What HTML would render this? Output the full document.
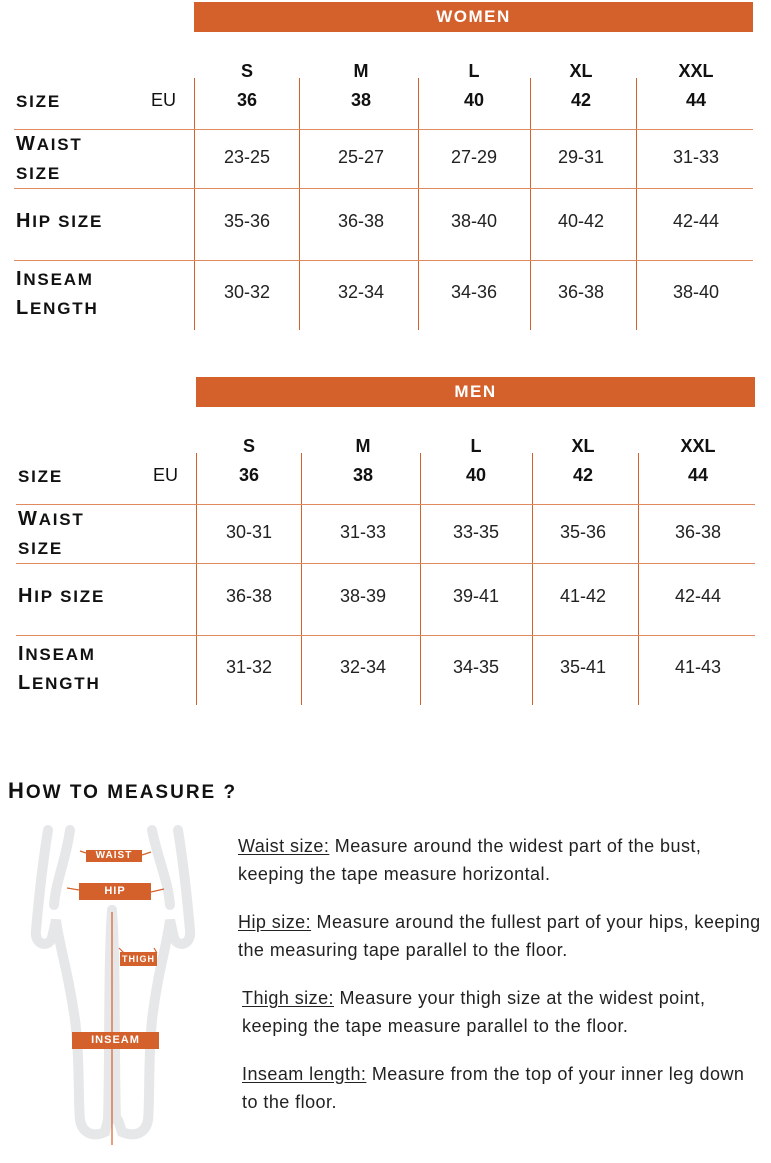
<!DOCTYPE html>
<html><head><meta charset="utf-8">
<style>
body{margin:0;width:771px;height:1163px;background:#fff;position:relative;overflow:hidden;font-family:"Liberation Sans",sans-serif;color:#111}
.a{position:absolute}
.bar{background:#d4612c;color:#fff;font-weight:bold;text-transform:uppercase;font-size:17px;letter-spacing:1.5px;text-align:center;line-height:30px}
.sc{font-weight:bold;text-transform:uppercase;font-size:17px;letter-spacing:1.8px;white-space:nowrap}
.sc b{font-size:20px}
.hd{font-weight:bold;font-size:18px;text-align:center;width:80px;margin-left:-40px}
.v{font-size:18px;text-align:center;width:80px;margin-left:-40px;color:#222}
.vl{width:1px;background:#d4612c}
.hl{height:1px;background:#e08a5f}
.p{font-size:18px;color:#222;white-space:nowrap;letter-spacing:0.45px}
.p u{text-underline-offset:2px}
.lab{background:#d4612c;color:#fff;font-weight:bold;font-size:10px;letter-spacing:1px;text-align:center}
</style></head><body>
<div id="root"></div>
<div class="a sc" style="left:8px;top:778px;font-size:19px;letter-spacing:2px"><b style="font-size:22px">H</b>ow to measure ?</div>
<svg class="a" style="left:0;top:820px" width="235" height="343">
<g fill="none" stroke="#e6e7e9" stroke-width="10" stroke-linecap="round">
<path d="M48 10 C40 60 38 90 36 110 C34 125 48 128 52 118 L56 100 C60 130 68 150 75 200 C80 240 78 280 80 300 C82 312 92 318 105 312 L108 300"/>
<path d="M178 10 C186 60 188 90 190 110 C192 125 178 128 174 118 L170 100 C166 130 158 150 152 200 C148 240 150 280 148 300 C146 312 136 318 122 312 L118 300"/>
<path d="M70 10 C66 40 56 60 54 85"/>
<path d="M152 10 C158 40 168 60 170 85"/>
<path d="M112 90 C108 150 110 230 108 300"/>
<path d="M112 90 C116 150 114 230 116 300"/>
</g>
<g stroke="#d4612c" stroke-width="1.2" fill="#d4612c">
<line x1="112" y1="92" x2="112" y2="325"/>
<line x1="80" y1="31" x2="86" y2="33"/><line x1="142" y1="35" x2="151" y2="32"/>
<line x1="67" y1="68" x2="79" y2="70"/><line x1="151" y1="72" x2="164" y2="69"/>
<line x1="119" y1="128" x2="124" y2="133"/><line x1="157" y1="133" x2="154" y2="128"/>
</g>
</svg>
<div class="a lab" style="left:86px;top:850px;width:56px;height:12px;line-height:12px">WAIST</div>
<div class="a lab" style="left:79px;top:883px;width:72px;height:17px;line-height:17px;font-size:11px">HIP</div>
<div class="a lab" style="left:120px;top:952px;width:37px;height:14px;line-height:14px;font-size:9px">THIGH</div>
<div class="a lab" style="left:72px;top:1032px;width:87px;height:17px;line-height:17px;font-size:11px">INSEAM</div>

<div class="a p" style="left:238px;top:836px"><u>Waist size:</u> Measure around the widest part of the bust,</div>
<div class="a p" style="left:238px;top:864px">keeping the tape measure horizontal.</div>
<div class="a p" style="left:238px;top:912px"><u>Hip size:</u> Measure around the fullest part of your hips, keeping</div>
<div class="a p" style="left:238px;top:940px">the measuring tape parallel to the floor.</div>
<div class="a p" style="left:242px;top:988px"><u>Thigh size:</u> Measure your thigh size at the widest point,</div>
<div class="a p" style="left:242px;top:1016px">keeping the tape measure parallel to the floor.</div>
<div class="a p" style="left:242px;top:1064px"><u>Inseam length:</u> Measure from the top of your inner leg down</div>
<div class="a p" style="left:242px;top:1092px">to the floor.</div>

<script>
const sizes=["S","M","L","XL","XXL"];
const euSizes=["36","38","40","42","44"];
const womenWaist=["23-25","25-27","27-29","29-31","31-33"];
const womenHip=["35-36","36-38","38-40","40-42","42-44"];
const womenInseam=["30-32","32-34","34-36","36-38","38-40"];
const menWaist=["30-31","31-33","33-35","35-36","36-38"];
const menHip=["36-38","38-39","39-41","41-42","42-44"];
const menInseam=["31-32","32-34","34-35","35-41","41-43"];
const root=document.getElementById('root');
function mk(cls,css,txt){const d=document.createElement('div');d.className='a '+cls;d.style.cssText=css;if(txt!==undefined)d.innerHTML=txt;root.appendChild(d);return d;}
function table(title,dx,dy,rows,key){
 let e=mk('bar',`left:${194+dx}px;top:${2+dy}px;width:559px;height:30px`,title);
 
 
 const vx=[194,299,418,530,636];
 vx.forEach((x,i)=>{e=mk('vl',`left:${x+dx}px;top:${78+dy}px;height:252px`);
  
  });
 [129,188,260].forEach(y=>{e=mk('hl',`left:${14+dx}px;top:${y+dy}px;width:739px`);
  
  });
 const cx=[247,361,474,581,696];
 e=mk('sc',`left:${16+dx}px;top:${92+dy}px`,'Size');
 
 
 e=mk('',`left:${151+dx}px;top:${90+dy}px;font-size:18px`,'EU');
 
 
 e=mk('sc',`left:${16+dx}px;top:${130+dy}px;line-height:29px`,'<b>W</b>aist<br>size');
 
 
 e=mk('sc',`left:${16+dx}px;top:${210+dy}px`,'<b>H</b>ip size');
 
 
 e=mk('sc',`left:${16+dx}px;top:${265+dy}px;line-height:29px`,'<b>I</b>nseam<br><b>L</b>ength');
 
 
 const ry=[147,211,282];
 cx.forEach((x,i)=>{
  e=mk('hd',`left:${x+dx}px;top:${61+dy}px`,sizes[i]);
  
  
  e=mk('hd',`left:${x+dx}px;top:${90+dy}px`,euSizes[i]);
  
  
  rows.forEach((r,j)=>{e=mk('v',`left:${x+dx}px;top:${ry[j]+dy}px`,r[i]);
   
   });
 });
}
table('Women',0,0,[womenWaist,womenHip,womenInseam],'women');
table('Men',2,375,[menWaist,menHip,menInseam],'men');
</script>
</body></html>
